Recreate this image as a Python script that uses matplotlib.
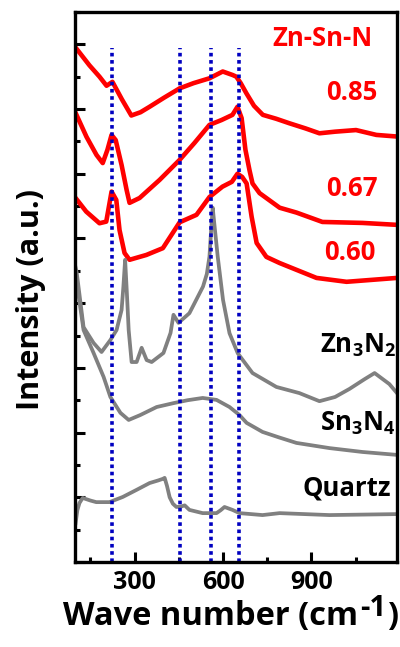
import matplotlib.pyplot as plt
from matplotlib.ticker import MultipleLocator, NullFormatter

plt.rcParams['font.family'] = ['Open Sans', 'DejaVu Sans']
plt.rcParams['font.weight'] = 'bold'
plt.rcParams['mathtext.fontset'] = 'custom'
plt.rcParams['mathtext.rm'] = 'Open Sans:bold'
plt.rcParams['mathtext.bf'] = 'Open Sans:bold'

# Raman spectra, stacked with vertical offsets (arbitrary units)
x_085 = [100, 147, 181, 205, 225, 257, 289, 320, 351, 400, 453, 500, 554, 599, 633,
         645, 660, 679, 705, 735, 780, 825, 880, 927, 980, 1051, 1120, 1190]
y_085 = [15.9, 15.35, 15.0, 14.72, 14.84, 14.3, 13.8, 13.9, 14.07, 14.35, 14.64, 14.8,
         14.95, 15.16, 15.05, 15.0, 14.8, 14.49, 14.1, 13.82, 13.7, 13.56, 13.4, 13.25,
         13.3, 13.35, 13.2, 13.15]

x_067 = [100, 137, 171, 192, 208, 222, 236, 256, 273, 283, 317, 385, 453, 503, 554,
         595, 632, 649, 663, 676, 690, 700, 724, 792, 849, 937, 1073, 1190]
y_067 = [13.88, 13.14, 12.58, 12.33, 12.74, 13.2, 13.04, 12.27, 11.5, 11.1, 11.25, 11.81,
         12.43, 12.95, 13.51, 13.66, 13.82, 14.07, 13.72, 12.74, 12.1, 11.7, 11.4, 10.95,
         10.8, 10.51, 10.48, 10.42]

x_060 = [100, 136, 181, 204, 222, 238, 249, 266, 283, 340, 396, 453, 510, 554, 598,
         630, 649, 665, 680, 697, 714, 747, 792, 849, 917, 1019, 1190]
y_060 = [11.25, 10.83, 10.47, 10.52, 11.45, 11.19, 10.26, 9.55, 9.34, 9.49, 9.70, 10.5,
         10.73, 11.28, 11.6, 11.75, 12.0, 11.9, 11.7, 10.67, 9.86, 9.43, 9.24, 9.03,
         8.78, 8.66, 8.78]

x_zn = [100, 104, 127, 161, 188, 218, 239, 256, 262, 268, 274, 280, 290, 307, 324, 341,
        358, 398, 422, 432, 449, 486, 509, 532, 545, 554, 560, 565, 570, 582, 600, 622,
        650, 700, 781, 859, 927, 980, 1029, 1080, 1114, 1164, 1190]
y_zn = [9.1, 8.93, 7.26, 6.77, 6.49, 6.86, 7.17, 7.79, 8.5, 9.34, 8.3, 7.17, 6.18, 6.18,
        6.62, 6.24, 6.18, 6.46, 7.08, 7.64, 7.39, 7.69, 8.1, 8.51, 8.9, 9.44, 10.3, 10.95,
        10.5, 9.44, 8.1, 7.07, 6.45, 5.84, 5.41, 5.22, 4.97, 5.1, 5.35, 5.65, 5.84, 5.5,
        5.22]

x_sn = [100, 104, 127, 161, 195, 218, 252, 280, 319, 375, 432, 480, 531, 578, 622, 656,
        680, 734, 790, 849, 961, 1073, 1190]
y_sn = [8.75, 8.62, 7.17, 6.46, 5.72, 5.10, 4.61, 4.39, 4.54, 4.79, 4.91, 5.0, 5.07,
        5.01, 4.79, 4.54, 4.30, 4.02, 3.85, 3.68, 3.52, 3.40, 3.31]

x_qz = [100, 106, 113, 124, 150, 170, 215, 260, 307, 351, 380, 396, 402, 410, 419, 430,
        442, 460, 470, 486, 531, 578, 592, 605, 620, 632, 656, 734, 792, 961, 1190]
y_qz = [1.2, 1.6, 1.82, 1.98, 1.9, 1.85, 1.85, 2.01, 2.23, 2.44, 2.52, 2.57, 2.6, 2.35,
        2.0, 1.8, 1.7, 1.72, 1.75, 1.61, 1.51, 1.51, 1.6, 1.70, 1.65, 1.61, 1.51, 1.45,
        1.51, 1.45, 1.48]

# mode positions marked with dotted lines
peaks = [224, 455, 560, 653]

fig = plt.figure(figsize=(4.0, 6.47), dpi=100)
ax = fig.add_axes([0.1875, 0.1314, 0.805, 0.8501])

red = '#ff0000'
gray = '#808080'
for xs, ys in [(x_085, y_085), (x_067, y_067), (x_060, y_060)]:
    ax.plot(xs, ys, color=red, lw=3.3, solid_joinstyle='round')
for xs, ys in [(x_zn, y_zn), (x_sn, y_sn), (x_qz, y_qz)]:
    ax.plot(xs, ys, color=gray, lw=2.7, solid_joinstyle='round')

ax.vlines(peaks, 0, 15.9, colors='#0000c0', linestyles=(0, (1, 1.0)), lw=2.6)

ax.set_xlim(98, 1190)
ax.set_ylim(0, 17)
ax.xaxis.set_major_locator(MultipleLocator(300))
ax.xaxis.set_minor_locator(MultipleLocator(150))
ax.yaxis.set_major_locator(MultipleLocator(2))
ax.yaxis.set_minor_locator(MultipleLocator(1))
ax.yaxis.set_major_formatter(NullFormatter())
ax.tick_params(which='both', direction='in', width=2.2, top=False, right=False)
ax.tick_params(which='major', length=7)
ax.tick_params(which='minor', length=3.5)
ax.tick_params(axis='x', labelsize=18, pad=6)
for s in ax.spines.values():
    s.set_linewidth(2.4)

kw = dict(fontsize=18.5, fontweight='bold', ha='center', va='center')
ax.text(937, 16.17, 'Zn-Sn-N', color=red, **kw)
ax.text(1036, 14.5, '0.85', color=red, **kw)
ax.text(1036, 11.53, '0.67', color=red, **kw)
ax.text(1030, 9.58, '0.60', color=red, **kw)
ax.text(1186, 6.7, r'Zn$_3$N$_2$', color='black', fontsize=18.5, fontweight='bold',
        ha='right', va='center')
ax.text(1186, 4.3, r'Sn$_3$N$_4$', color='black', fontsize=18.5, fontweight='bold',
        ha='right', va='center')
ax.text(1019, 2.29, 'Quartz', color='black', **kw)

fig.text(0.078, 1 - 299 / 647, 'Intensity (a.u.)', rotation=90, fontsize=22,
         fontweight='bold', ha='center', va='center')

# x label built from pieces so the superscript keeps a plain hyphen
r = fig.canvas.get_renderer()
base_y = 1 - 625 / 647
t1 = fig.text(63 / 400, base_y, 'Wave number (cm', fontsize=23.5, fontweight='bold',
              ha='left', va='baseline')
x1 = t1.get_window_extent(r).x1 / fig.bbox.width
t2 = fig.text(x1 + 0.004, 1 - 616 / 647, '-1', fontsize=21, fontweight='bold',
              ha='left', va='baseline')
x2 = t2.get_window_extent(r).x1 / fig.bbox.width
fig.text(x2 + 0.002, base_y, ')', fontsize=23.5, fontweight='bold',
         ha='left', va='baseline')

fig.savefig('out.png', dpi=100)
